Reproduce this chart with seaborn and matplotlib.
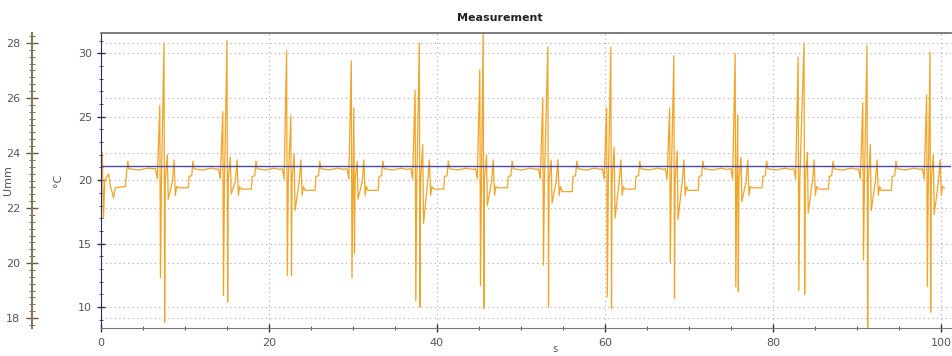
import numpy as np
import pandas as pd
import matplotlib
matplotlib.use("Agg")
import matplotlib.pyplot as plt
from matplotlib.ticker import MultipleLocator
import seaborn as sns

# spike clusters (seconds, °C)
spike_a_t = [7.0, 14.5, 22.1, 29.8, 37.4, 45.1, 52.6, 60.2, 67.7, 75.5, 83.0, 90.7, 98.3]
spike_a_hi = [25.9, 25.4, 30.2, 29.4, 27.1, 28.7, 26.5, 25.7, 25.7, 30.0, 29.7, 26.1, 26.7]
spike_a_lo = [12.3, 10.9, 12.5, 12.3, 10.5, 11.7, 13.3, 10.8, 13.5, 11.6, 11.3, 13.7, 11.6]
spike_b_t = [7.5, 15.0, 22.6, 30.1, 37.9, 45.5, 53.2, 60.7, 68.2, 75.8, 83.7, 91.2, 98.7]
spike_b_hi = [30.8, 31.0, 25.1, 25.7, 30.8, 31.9, 30.5, 30.5, 29.8, 25.1, 30.8, 30.6, 30.1]
spike_b_lo = [8.8, 10.4, 12.5, 14.2, 10.0, 9.9, 10.0, 9.9, 10.7, 11.2, 11.0, 8.0, 9.6]
small_hi = [22.0, 21.8, 22.1, 21.5, 22.8, 22.0, 21.6, 22.6, 22.3, 21.8, 22.2, 22.8, 22.0]
small_lo = [18.5, 18.9, 17.6, 18.5, 16.6, 18.0, 18.2, 17.0, 16.9, 18.3, 17.4, 17.6, 17.3]
dip_level = [19.4, 19.3, 19.2, 19.2, 19.3, 19.4, 19.1, 19.3, 19.2, 19.4, 19.3, 19.2, 19.4]

# recurring settle shape after each cluster (offset s, °C)
settle_dt = [0.25, 1.0, 1.2, 1.35, 1.5, 1.7, 2.9, 3.0, 3.3, 3.45, 3.6, 4.6, 5.6, 6.3]
settle_val = [19.8, 19.9, 21.6, 18.8, 19.5, None, None, 20.3, 20.35, 21.5, 20.9, 20.8, 20.95, 20.85]

# start of the record
start_t = [0.0, 0.15, 0.3, 0.45, 0.9, 1.1, 1.5, 1.7, 2.9, 3.0, 3.2, 3.3, 4.5, 5.6]
start_val = [20.0, 22.2, 17.0, 20.0, 20.5, 19.6, 18.6, 19.4, 19.5, 20.3, 21.5, 20.9, 20.8, 20.95]

limit_line = 21.15

t, v = list(start_t), list(start_val)
for i in range(len(spike_a_t)):
    ta, tb = spike_a_t[i], spike_b_t[i]
    pts = [(ta - 0.5, 20.9), (ta - 0.3, 20.1), (ta, spike_a_hi[i]), (ta + 0.08, spike_a_lo[i]),
           (ta + 0.2, 20.0), (tb, spike_b_hi[i]), (tb + 0.08, spike_b_lo[i]),
           (tb + 0.15, 20.0), (tb + 0.4, small_hi[i]), (tb + 0.5, small_lo[i])]
    for dt, val in zip(settle_dt, settle_val):
        pts.append((tb + dt, dip_level[i] if val is None else val))
    for x, y in pts:
        if x > t[-1] and x <= 101:
            t.append(x)
            v.append(y)

df = pd.DataFrame({"s": t, "degC": v})

fig = plt.figure(figsize=(9.53, 3.56), dpi=100)
ax = fig.add_axes([101 / 953, 28 / 356, 850 / 953, 295 / 356])
ax2 = ax.twinx()

sns.lineplot(data=df, x="s", y="degC", ax=ax, color="#f0a428", linewidth=0.9,
             estimator=None, sort=False)
ax.axhline(limit_line, color="#4848a8", linewidth=1)

ax.set_xlim(0, 101.2)
ax.set_ylim(8.35, 31.6)
ax2.set_ylim(17.64, 28.36)

ax.xaxis.set_major_locator(MultipleLocator(20))
ax.xaxis.set_minor_locator(MultipleLocator(5))
ax.yaxis.set_major_locator(MultipleLocator(5))
ax.yaxis.set_minor_locator(MultipleLocator(1))
ax2.yaxis.set_major_locator(MultipleLocator(2))
ax2.yaxis.set_minor_locator(MultipleLocator(0.25))

ax.grid(True, which="major", linestyle=(0, (1, 3)), color="#a8a8a8", linewidth=0.8)
ax2.grid(True, which="major", axis="y", linestyle=(0, (1, 3)), color="#a8a8a8", linewidth=0.8)
ax.set_zorder(ax2.get_zorder() + 1)
ax.patch.set_visible(False)

ax.spines["right"].set_visible(False)
ax.spines["left"].set_color("#2a2a70")
ax.spines["top"].set_color("#666666")
ax.spines["bottom"].set_color("#777777")
ax.spines["top"].set_linewidth(1.2)

ax2.yaxis.set_ticks_position("left")
ax2.yaxis.set_label_position("left")
ax2.spines["left"].set_position(("outward", 50))
ax2.spines["left"].set_visible(True)
ax2.spines["left"].set_color("#8a7560")
ax2.spines["left"].set_linewidth(1.5)
for sp in ["right", "top", "bottom"]:
    ax2.spines[sp].set_visible(False)

ax.tick_params(axis="both", which="major", direction="inout", length=6, width=1,
               labelsize=8, labelcolor="#555555", color="#333333")
ax.tick_params(axis="both", which="minor", direction="inout", length=3, color="#333333")
ax.tick_params(axis="x", pad=4)
ax2.tick_params(axis="y", which="major", direction="inout", length=8, width=1,
                labelsize=8, labelcolor="#555555", color="#6a5540", pad=4)
ax2.tick_params(axis="y", which="minor", direction="inout", length=4, color="#6a5540")

ax.set_xlabel("")
ax.set_ylabel("°C", fontsize=8, color="#555555")
ax.yaxis.set_label_coords(-0.045, 0.5)
ax2.set_ylabel("Umm", fontsize=8, color="#555555")
ax2.yaxis.set_label_coords(-0.104, 0.5)

fig.text(500 / 953, 1 - 18 / 356, "Measurement", ha="center", va="center",
         fontsize=8, fontweight="bold", color="#222222")
fig.text(555 / 953, 2 / 356, "s", ha="center", va="bottom", fontsize=7, color="#555555")

fig.savefig("out.png", dpi=100)
